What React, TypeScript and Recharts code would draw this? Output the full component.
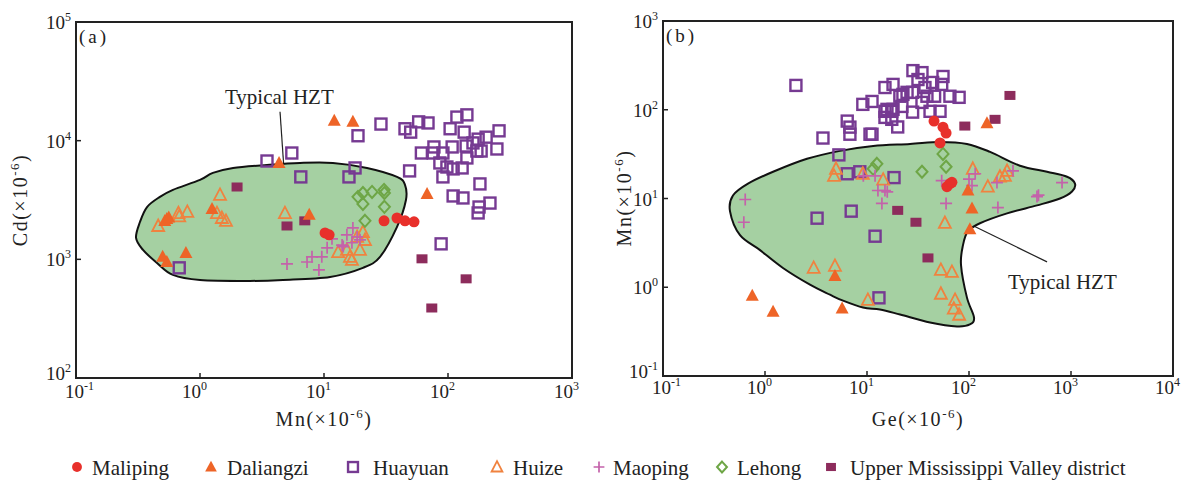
import React from 'react';
import { ScatterChart, Scatter, XAxis, YAxis, ReferenceArea, ReferenceLine } from 'recharts';

// ---- panel (a): Mn vs Cd (ppm) ----
const maliA = [[10.2, 1670], [11, 1610], [30.5, 2110], [38.8, 2230], [45, 2110], [53.2, 2070]];
const daliA = [[12.1, 14700], [17.1, 14400], [4.34, 6490], [67.8, 3560], [7.6, 2370], [0.54, 2190], [0.52, 2100],
  [0.56, 2250], [0.5, 1050], [0.54, 950], [0.77, 1130], [1.25, 2660]];
const huayA = [[28.8, 13800], [45, 12600], [50, 11800], [58, 14400], [69, 14100], [118, 15800], [142, 16500],
  [104, 12600], [135, 11800], [258, 12100], [175, 10300], [203, 10700], [159, 9570], [18.8, 11000], [77, 8850],
  [91, 7870], [61, 7870], [76, 7870], [108, 8850], [140, 9020], [171, 8180], [185, 8180], [248, 8510], [142, 7150],
  [86, 6490], [98, 6000], [110, 5780], [91, 4950], [130, 5890], [49, 5560], [181, 4320], [110, 3420], [132, 3290],
  [218, 2980], [178, 2760], [175, 2460], [88, 1350], [5.5, 7870], [3.47, 6740], [6.5, 4950], [15.9, 4950],
  [17.8, 5890], [0.68, 848]];
const huizeA = [[0.46, 1910], [0.67, 2450], [0.68, 2300], [0.79, 2510], [1.45, 3490], [1.37, 2450], [1.5, 2230],
  [1.62, 2110], [4.84, 2450], [20.6, 1700], [13, 1150], [15.3, 1200], [16.2, 1050], [19.5, 1200], [16.8, 990],
  [18.5, 1545], [21.4, 1455]];
const maopA = [[5.03, 915], [7.3, 950], [9.1, 815], [8.0, 1050], [9.6, 1050], [10.6, 1250], [11.6, 1490], [14, 1320],
  [14.3, 1280], [15.3, 1610], [17.1, 1840], [18.5, 1545], [19.5, 1460], [16.8, 1380]];
const lehongA = [[18.8, 3360], [20.6, 3620], [24.4, 3700], [20.6, 2930], [30.5, 3850], [30.7, 3620], [30.7, 2770],
  [21.4, 2110]];
const umvA = [[1.99, 4070], [5.03, 1910], [7.0, 2110], [61.7, 1010], [140, 685], [74, 389]];
const hztA = [[0.305, 1514], [0.328, 2065], [0.374, 2760], [0.475, 3360], [0.605, 3850], [1.0, 4670], [1.27, 5350],
  [1.85, 5890], [3.47, 6240], [6.4, 6490], [11.8, 6490], [22.2, 5890], [38.8, 4950], [45, 4240], [45.8, 3160],
  [38.8, 1880], [28.3, 1050], [20.6, 848], [11.2, 711], [4.67, 670], [2.53, 658], [1.0, 670], [0.605, 739],
  [0.45, 933], [0.347, 1200]];
const leaderA = [[4.42, 17500], [4.84, 4400]];

// ---- panel (b): Ge vs Mn (ppm) ----
const maliB = [[45.4, 74.5], [55.6, 63.7], [59.6, 54.6], [52, 42.3], [65, 14.7], [60.8, 13.6], [68, 15.2]];
const daliB = [[150, 70.6], [97.7, 12.3], [107, 7.7], [102, 4.5], [0.75, 0.8], [1.2, 0.53], [5.7, 0.575], [4.85, 1.34]];
const huayB = [[2.01, 188], [3.7, 48], [6.4, 74.5], [6.8, 63.7], [6.8, 53], [10.7, 53], [9.1, 115], [11.2, 124],
  [15, 178], [18, 193], [22.5, 149], [15, 96], [17.5, 96], [15, 82], [17.5, 78], [20, 64], [22, 109], [5.3, 31],
  [6.4, 19], [8.5, 20], [18.4, 17.2], [3.24, 6.0], [7.0, 7.2], [12, 3.76], [13.1, 0.76], [28.2, 276], [34.6, 262],
  [55.6, 237], [31.6, 219], [24.7, 157], [28, 157], [37, 178], [44, 203], [54, 193], [38.7, 142], [46, 142],
  [65, 142], [80, 138], [28, 94], [41.5, 96], [52, 96], [34.6, 121], [21, 142], [11.2, 53], [15.7, 101], [18, 101]];
const huizeB = [[4.97, 21.6], [4.75, 18], [9.1, 19], [14.4, 16.3], [3.0, 1.65], [4.85, 1.74], [10.2, 0.72], [53, 1.57],
  [68, 1.49], [53, 0.845], [73, 0.72], [71, 0.575], [80, 0.49], [58, 5.3], [109, 21.6], [153, 13.6], [201, 17.6],
  [225, 18], [236, 20.5]];
const maopB = [[0.64, 9.75], [0.62, 5.4], [12, 18], [12.8, 12.3], [15, 12.3], [15.8, 11.9], [14, 8.8], [9.2, 18],
  [59.6, 8.8], [54, 15.9], [107, 14], [115, 19], [188, 15.1], [192, 7.9], [270, 20.5], [464, 10.5], [480, 10.9],
  [817, 15.1], [100, 16.5]];
const lehongB = [[11.5, 21.6], [12.5, 24.6], [34.6, 20], [55.6, 31.8], [59.6, 22.8]];
const umvB = [[252, 145], [180, 78], [91, 65.5], [20, 7.35], [30.2, 5.4], [39.6, 2.14]];
const hztB = [[0.454, 7.16], [0.485, 10.8], [0.681, 14.7], [1.2, 20], [2.58, 28], [5.43, 34.4], [11.5, 39.1],
  [26.4, 41.2], [52, 43.4], [95.5, 41.2], [161, 33.5], [316, 23.4], [582, 20], [914, 17.6], [1094, 14.7], [1023, 12],
  [780, 10], [464, 8.36], [236, 6.8], [128, 5.26], [97.7, 4.28], [87.3, 2.98], [83.5, 1.78], [95.5, 0.764],
  [112, 0.456], [102, 0.381], [76.2, 0.362], [41.5, 0.401], [21.1, 0.493], [13.4, 0.561], [9.14, 0.59],
  [5.82, 0.706], [4.34, 0.824], [2.76, 1.07], [1.5, 1.65], [0.894, 2.62], [0.569, 3.86]];
const leaderB = [[93.5, 5.4], [582, 1.93]];

const xTicksA = [0.1, 1, 10, 100, 1000];
const yTicksA = [100, 1000, 10000, 100000];
const xTicksB = [0.1, 1, 10, 100, 1000, 10000];
const yTicksB = [0.1, 1, 10, 100, 1000];

const legendNames = ['Maliping', 'Daliangzi', 'Huayuan', 'Huize', 'Maoping', 'Lehong', 'Upper Mississippi Valley district'];

const FONT = '"Liberation Serif", "Times New Roman", serif';
const C = {
  mali: '#e8302b',
  dali: '#ee6427',
  huay: '#763a92',
  huize: '#f0823f',
  maop: '#c462aa',
  lehong: '#6ea646',
  umv: '#8d2c5c',
  hzt: '#a5d0a2',
};

const toPts = (arr: number[][]) => arr.map(([x, y]) => ({ x, y }));

function marker(kind: string, cx: number, cy: number, s = 1) {
  switch (kind) {
    case 'mali':
      return <circle cx={cx} cy={cy} r={5.5 * s} fill={C.mali} />;
    case 'dali':
      return <path d={`M${cx},${cy - 7 * s} L${cx + 6.5 * s},${cy + 5 * s} L${cx - 6.5 * s},${cy + 5 * s}Z`} fill={C.dali} />;
    case 'huay':
      return <rect x={cx - 5.5 * s} y={cy - 5.5 * s} width={11 * s} height={11 * s} fill="none" stroke={C.huay} strokeWidth={2.4} />;
    case 'huize':
      return <path d={`M${cx},${cy - 6.5 * s} L${cx + 6 * s},${cy + 5 * s} L${cx - 6 * s},${cy + 5 * s}Z`} fill="none" stroke={C.huize} strokeWidth={1.8} />;
    case 'maop':
      return <path d={`M${cx - 6 * s},${cy} H${cx + 6 * s} M${cx},${cy - 6 * s} V${cy + 6 * s}`} stroke={C.maop} strokeWidth={1.7} />;
    case 'lehong':
      return <path d={`M${cx},${cy - 6 * s} L${cx + 5.5 * s},${cy} L${cx},${cy + 6 * s} L${cx - 5.5 * s},${cy}Z`} fill="none" stroke={C.lehong} strokeWidth={2} />;
    default:
      return <rect x={cx - 5.5 * s} y={cy - 4.5 * s} width={11 * s} height={9 * s} fill={C.umv} />;
  }
}

function closedPath(pts: { x: number; y: number }[]) {
  const n = pts.length;
  if (!n) return '';
  let d = `M${pts[0].x},${pts[0].y}`;
  for (let i = 0; i < n; i++) {
    const p0 = pts[(i - 1 + n) % n], p1 = pts[i], p2 = pts[(i + 1) % n], p3 = pts[(i + 2) % n];
    const c1x = p1.x + (p2.x - p0.x) / 6, c1y = p1.y + (p2.y - p0.y) / 6;
    const c2x = p2.x - (p3.x - p1.x) / 6, c2y = p2.y - (p3.y - p1.y) / 6;
    d += ` C${c1x},${c1y} ${c2x},${c2y} ${p2.x},${p2.y}`;
  }
  return d + 'Z';
}

const expOf = (v: number) => String(Math.round(Math.log10(v)));

// first x label sits a little to the right, clear of the lowest y label
const makeXTick = (dy: number, firstShift: number) => (props: any) => {
  const { x, y, payload, index } = props;
  const tx = x + 1 + (index === 0 ? firstShift : 0);
  return (
    <g>
      <line x1={x} x2={x} y1={y} y2={y - 5} stroke="#222" strokeWidth={1.5} />
      <text x={tx} y={y + dy} textAnchor="end" fontSize={19} fontFamily={FONT} fill="#222">10</text>
      <text x={tx} y={y + dy - 8} fontSize={12} fontFamily={FONT} fill="#222">{expOf(payload.value)}</text>
    </g>
  );
};

const makeYTick = (lastLift: number) => (props: any) => {
  const { x, y, payload, index } = props;
  const ty = y + 7 - (index === 0 ? lastLift : 0);
  return (
    <g>
      <line x1={x} x2={x + 5} y1={y} y2={y} stroke="#222" strokeWidth={1.5} />
      <text x={x - 5} y={ty} textAnchor="end" fontSize={19} fontFamily={FONT} fill="#222">
        10<tspan dy={-8} fontSize={12}>{expOf(payload.value)}</tspan>
      </text>
    </g>
  );
};

type Series = { kind: string; data: number[][] };

function Panel(props: {
  xDomain: number[]; yDomain: number[]; xTicks: number[]; yTicks: number[];
  series: Series[]; region: number[][]; leader: number[][];
  margin: { top: number; right: number; left: number; bottom: number }; xdy: number;
}) {
  const { xDomain, yDomain, xTicks, yTicks, series, region, leader, margin, xdy } = props;
  const seg = toPts(leader);
  return (
    <ScatterChart width={600} height={430} margin={margin}>
      <XAxis type="number" dataKey="x" scale="log" domain={xDomain} ticks={xTicks} allowDataOverflow
        axisLine={false} tickLine={false} tickSize={0} tickMargin={0} height={30} tick={makeXTick(xdy, 7)} interval={0} />
      <YAxis type="number" dataKey="y" scale="log" domain={yDomain} ticks={yTicks} allowDataOverflow
        axisLine={false} tickLine={false} tickSize={0} tickMargin={0} width={60} tick={makeYTick(5)} interval={0} />
      <Scatter data={toPts(region)} isAnimationActive={false} legendType="none" shape={() => <g />}
        line={(p: any) => <path d={closedPath(p.points)} fill={C.hzt} stroke="#111" strokeWidth={2} />} />
      <ReferenceLine segment={[seg[0], seg[1]]} stroke="#222" strokeWidth={1.2} ifOverflow="visible" />
      {series.map((s) => (
        <Scatter key={s.kind} data={toPts(s.data)} isAnimationActive={false}
          shape={(p: any) => marker(s.kind, p.cx, p.cy)} />
      ))}
      <ReferenceArea x1={xDomain[0]} x2={xDomain[1]} y1={yDomain[0]} y2={yDomain[1]} fill="none" fillOpacity={0}
        stroke="#222" strokeWidth={2} ifOverflow="visible" />
    </ScatterChart>
  );
}

const seriesA: Series[] = [
  { kind: 'huay', data: huayA }, { kind: 'huize', data: huizeA }, { kind: 'lehong', data: lehongA },
  { kind: 'maop', data: maopA }, { kind: 'umv', data: umvA }, { kind: 'dali', data: daliA }, { kind: 'mali', data: maliA },
];
const seriesB: Series[] = [
  { kind: 'huay', data: huayB }, { kind: 'huize', data: huizeB }, { kind: 'lehong', data: lehongB },
  { kind: 'maop', data: maopB }, { kind: 'umv', data: umvB }, { kind: 'dali', data: daliB }, { kind: 'mali', data: maliB },
];

const legendKinds = ['mali', 'dali', 'huay', 'huize', 'maop', 'lehong', 'umv'];
const legendMarkX = [77, 211, 353, 497, 599, 722, 831];
const legendTextX = [92, 227, 373, 513, 613, 737, 850];

function Title({ x, y, label, rotate }: { x: number; y: number; label: string; rotate?: boolean }) {
  return (
    <text x={x} y={y} textAnchor="middle" fontSize={20} fontFamily={FONT} fill="#222" letterSpacing={1.5}
      transform={rotate ? `rotate(-90 ${x} ${y})` : undefined}>
      {label}(×10<tspan dy={-8} fontSize={13}>-6</tspan><tspan dy={8}>)</tspan>
    </text>
  );
}

export default function App() {
  return (
    <div style={{ position: 'absolute', left: 0, top: 0, width: 1192, height: 482, background: '#fff', overflow: 'hidden' }}>
      <div style={{ position: 'absolute', left: 0, top: 0 }}>
        <Panel xDomain={[0.1, 1000]} yDomain={[100, 100000]} xTicks={xTicksA} yTicks={yTicksA} series={seriesA}
          region={hztA} leader={leaderA} margin={{ top: 22, right: 28, left: 16, bottom: 22 }} xdy={20} />
      </div>
      <div style={{ position: 'absolute', left: 590, top: 0 }}>
        <Panel xDomain={[0.1, 10000]} yDomain={[0.1, 1000]} xTicks={xTicksB} yTicks={yTicksB} series={seriesB}
          region={hztB} leader={leaderB} margin={{ top: 21, right: 17, left: 13, bottom: 24 }} xdy={18} />
      </div>
      <svg width={1192} height={482} style={{ position: 'absolute', left: 0, top: 0, pointerEvents: 'none' }}>
        <text x={79} y={43} fontSize={19} fontFamily={FONT} fill="#222" letterSpacing={3}>(a)</text>
        <text x={666} y={42} fontSize={19} fontFamily={FONT} fill="#222" letterSpacing={3}>(b)</text>
        <text x={225} y={104} fontSize={21} fontFamily={FONT} fill="#222">Typical HZT</text>
        <text x={1008} y={289} fontSize={21} fontFamily={FONT} fill="#222">Typical HZT</text>
        <Title x={324} y={426} label="Mn" />
        <Title x={918} y={426} label="Ge" />
        <Title x={27} y={200} label="Cd" rotate />
        <Title x={631} y={198} label="Mn" rotate />
        {legendKinds.map((k, i) => (
          <g key={k}>
            {marker(k, legendMarkX[i], 467, 0.9)}
            <text x={legendTextX[i]} y={475} fontSize={21} fontFamily={FONT} fill="#222">{legendNames[i]}</text>
          </g>
        ))}
      </svg>
    </div>
  );
}
